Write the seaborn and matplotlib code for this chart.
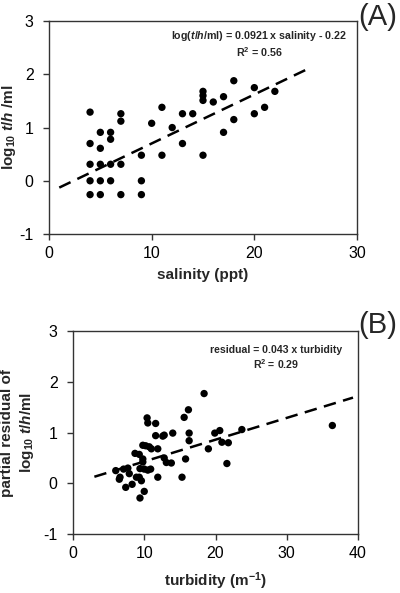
import numpy as np
import matplotlib
matplotlib.use("Agg")
import matplotlib.pyplot as plt
import seaborn as sns

# panel A: salinity vs log10 t/h per ml
salinity = [4, 4, 4, 4, 4, 5, 5, 5, 5, 5, 6, 6, 6, 6, 7, 7, 7, 7,
            9, 9, 9, 10, 11, 11, 12, 13, 13, 14, 15, 15, 15, 15,
            16, 17, 17, 18, 18, 20, 20, 21, 22]
log_th = [1.29, 0.70, 0.31, 0.0, -0.26, 0.91, 0.61, 0.31, 0.0, -0.26,
          0.91, 0.78, 0.31, 0.0, 1.26, 1.12, 0.31, -0.26,
          0.48, 0.0, -0.26, 1.08, 1.38, 0.48, 1.0, 1.26, 0.70, 1.26,
          1.68, 1.60, 1.51, 0.48, 1.48, 1.58, 0.91, 1.88, 1.15,
          1.75, 1.26, 1.38, 1.68]
slope_a, intercept_a = 0.0921, -0.22
fit_range_a = [1, 25]

# panel B: turbidity vs partial residual
turbidity = [6.0, 6.6, 6.5, 7.1, 7.4, 7.7, 7.9, 8.3, 8.7, 8.9, 9.3, 9.3,
             9.4, 9.4, 9.6, 9.8, 9.8, 9.8, 10.0, 10.0, 10.2, 10.4, 10.5,
             10.5, 10.7, 10.9, 11.0, 11.6, 11.6, 11.9, 11.9, 12.6, 12.8,
             12.8, 13.1, 13.8, 14.0, 15.3, 15.6, 15.8, 16.2, 16.3, 16.3,
             18.4, 19.0, 19.9, 20.6, 20.9, 21.6, 21.8, 23.7, 36.4]
residual = [0.25, 0.12, 0.08, 0.28, -0.08, 0.30, 0.19, -0.02, 0.59, 0.12,
            0.57, 0.12, 0.29, -0.29, 0.05, 0.75, 0.48, 0.42, -0.16, 0.28,
            0.74, 1.29, 1.19, 0.26, 0.72, 0.28, 0.68, 1.18, 0.94, 0.68,
            0.12, 0.93, 0.95, 0.50, 0.41, 0.40, 0.99, 0.12, 1.30, 0.48,
            1.45, 0.99, 0.84, 1.77, 0.68, 0.99, 1.04, 0.81, 0.39, 0.80,
            1.06, 1.14]
slope_b, intercept_b = 0.043, 0.0
fit_range_b = [3, 39.3]

sns.set_style("ticks")
plt.rcParams['font.family'] = ['Liberation Sans', 'DejaVu Sans']
plt.rcParams['mathtext.fontset'] = 'custom'
plt.rcParams['mathtext.rm'] = 'Liberation Sans:bold'
plt.rcParams['mathtext.it'] = 'Liberation Sans:bold:italic'
plt.rcParams['mathtext.bf'] = 'Liberation Sans:bold'
plt.rcParams['axes.unicode_minus'] = False

fig = plt.figure(figsize=(4.0, 5.93), dpi=100)
ax_a = fig.add_axes([0.1225, 0.6054, 0.77, 0.359])
ax_b = fig.add_axes([0.1825, 0.0995, 0.7125, 0.342])


def style_axis(ax, xmax, xticks):
    ax.set_xlim(0, xmax)
    ax.set_ylim(-1, 3)
    ax.set_xticks(xticks)
    ax.set_yticks([-1, 0, 1, 2, 3])
    for sp in ax.spines.values():
        sp.set_color('#333333')
        sp.set_linewidth(1.0)
    ax.tick_params(axis='both', direction='out', length=4, width=1.0,
                   color='#333333', labelsize=11.5, labelcolor='black')
    ax.tick_params(axis='x', pad=5)
    ax.tick_params(axis='y', pad=7)


# panel A
sns.scatterplot(x=salinity, y=log_th, ax=ax_a, color='black', s=28,
                edgecolor='none', legend=False)
xa = np.array(fit_range_a, dtype=float)
sns.lineplot(x=xa, y=slope_a * xa + intercept_a, ax=ax_a, color='black',
             linewidth=1.8, linestyle=(0, (5, 3)))
style_axis(ax_a, 30, [0, 10, 20, 30])
ax_a.set_xlabel('salinity (ppt)', fontsize=11, fontweight='bold')
ax_a.set_ylabel(r'log$_{10}$ $\mathit{t/h}$ /ml', fontsize=11, fontweight='bold')
ax_a.xaxis.set_label_coords(0.5, -0.16)
ax_a.yaxis.set_label_coords(-0.1, 0.5)
ax_a.text(0.682, 0.93, r'log($\mathit{t/h}$/ml) = 0.0921 x salinity - 0.22',
          transform=ax_a.transAxes, ha='center', va='center', fontsize=7.7,
          fontweight='bold')
ax_a.text(0.682, 0.855, 'R$^2$ = 0.56', transform=ax_a.transAxes,
          ha='center', va='center', fontsize=7.7, fontweight='bold')
fig.text(0.945, 0.971, '(A)', ha='center', va='center', fontsize=21)

# panel B
sns.scatterplot(x=turbidity, y=residual, ax=ax_b, color='black', s=28,
                edgecolor='none', legend=False)
xb = np.array(fit_range_b, dtype=float)
sns.lineplot(x=xb, y=slope_b * xb + intercept_b, ax=ax_b, color='black',
             linewidth=1.8, linestyle=(0, (5, 3)))
style_axis(ax_b, 40, [0, 10, 20, 30, 40])
ax_b.set_xlabel('turbidity (m$^{-1}$)', fontsize=11, fontweight='bold')
ax_b.set_ylabel('partial residual of\n' + r'log$_{10}$ $\mathit{t/h}$/ml',
                fontsize=11, fontweight='bold', linespacing=1.3)
ax_b.xaxis.set_label_coords(0.5, -0.18)
ax_b.yaxis.set_label_coords(-0.13, 0.5)
ax_b.text(0.714, 0.906, 'residual = 0.043 x turbidity',
          transform=ax_b.transAxes, ha='center', va='center', fontsize=7.6,
          fontweight='bold')
ax_b.text(0.714, 0.837, 'R$^2$ = 0.29', transform=ax_b.transAxes,
          ha='center', va='center', fontsize=7.6, fontweight='bold')
fig.text(0.945, 0.452, '(B)', ha='center', va='center', fontsize=21)

fig.savefig('out.png', dpi=100)
